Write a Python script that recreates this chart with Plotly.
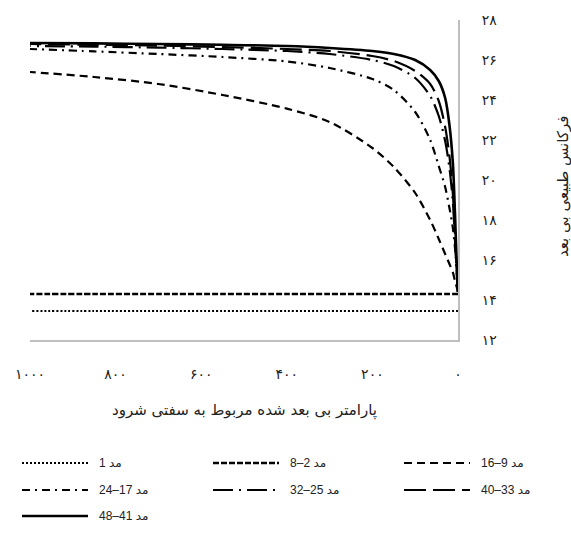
import plotly.graph_objects as go

# ---------------- data ----------------
x_vals = [0, 3, 7, 12, 20, 30, 45, 65, 100, 150, 200, 300, 400, 550, 700, 850, 1000]

mode_1     = [13.45] * 17
mode_2_8   = [14.3] * 17
mode_9_16  = [14.4, 14.65, 14.95, 15.38, 15.8, 16.3, 17.05, 18.0, 19.35, 20.65, 21.6, 22.9, 23.57, 24.25, 24.8, 25.15, 25.4]
mode_17_24 = [14.4, 15.6, 16.6, 17.6, 18.6, 19.65, 20.7, 22.0, 23.4, 24.5, 25.05, 25.6, 25.93, 26.15, 26.3, 26.43, 26.55]
mode_25_32 = [14.4, 15.3, 17.0, 18.9, 20.6, 21.95, 23.2, 24.2, 25.1, 25.7, 26.0, 26.3, 26.45, 26.55, 26.62, 26.67, 26.7]
mode_33_40 = [14.4, 15.5, 17.3, 19.3, 21.2, 22.65, 23.95, 24.8, 25.45, 25.95, 26.2, 26.45, 26.55, 26.65, 26.72, 26.76, 26.8]
mode_41_48 = [14.4, 15.8, 18.3, 20.85, 22.75, 24.1, 24.95, 25.5, 26.0, 26.3, 26.45, 26.6, 26.7, 26.76, 26.8, 26.83, 26.85]

series_names = ["مد 1", "مد 2–8", "مد 9–16", "مد 17–24", "مد 25–32", "مد 33–40", "مد 41–48"]
series_values = [mode_1, mode_2_8, mode_9_16, mode_17_24, mode_25_32, mode_33_40, mode_41_48]

x_tick_vals = [1000, 800, 600, 400, 200, 0]
x_tick_text = ["۱۰۰۰", "۸۰۰", "۶۰۰", "۴۰۰", "۲۰۰", "۰"]
y_tick_vals = [12, 14, 16, 18, 20, 22, 24, 26, 28]
y_tick_text = ["۱۲", "۱۴", "۱۶", "۱۸", "۲۰", "۲۲", "۲۴", "۲۶", "۲۸"]

x_title = "پارامتر بی بعد شده مربوط به سفتی شرود"
y_title = "فرکانس طبیعی بی بعد"

# ---------------- styles ----------------
styles = [
    dict(dash="2px,2px", width=2),
    dict(dash="6px,2px", width=2.5),
    dict(dash="8px,5px", width=2.2),
    dict(dash="8px,5px,2px,5px", width=2.2),
    dict(dash="20px,6px,2px,6px", width=2.2),
    dict(dash="22px,7px", width=2.2),
    dict(dash="solid", width=2.6),
]

W, H = 571, 535
PL, PR, PT, PB = 30, 458, 20, 340  # plot box in pixels

fig = go.Figure()

for name, vals, st in zip(series_names, series_values, styles):
    fig.add_trace(go.Scatter(
        x=x_vals, y=vals, mode="lines", name=name,
        line=dict(color="black", width=st["width"], dash=st["dash"], shape="spline", smoothing=0.8),
        xaxis="x", yaxis="y", showlegend=False, hoverinfo="skip",
    ))

# ---------------- custom legend (pixel-based hidden axes) ----------------
col_x = [22, 213, 404]
row_y = [463, 490, 516]
sample_len = 66
for i, (name, st) in enumerate(zip(series_names, styles)):
    r, c = divmod(i, 3)
    x0 = col_x[c]
    yy = row_y[r]
    fig.add_trace(go.Scatter(
        x=[x0, x0 + sample_len], y=[yy, yy], mode="lines",
        line=dict(color="black", width=st["width"], dash=st["dash"]),
        xaxis="x2", yaxis="y2", showlegend=False, hoverinfo="skip",
    ))
    fig.add_annotation(
        x=x0 + sample_len + 9, y=yy, xref="x2", yref="y2",
        text=name, showarrow=False, xanchor="left", yanchor="middle",
        font=dict(family="Liberation Sans, DejaVu Sans", size=12, color="#222"),
    )

# ---------------- titles ----------------
fig.add_annotation(
    x=(PL + PR) / 2 / W, y=1 - 410 / H, xref="paper", yref="paper",
    text=x_title, showarrow=False, xanchor="center", yanchor="middle",
    font=dict(family="DejaVu Sans", size=15, color="#222"),
)
fig.add_annotation(
    x=563 / W, y=1 - 187 / H, xref="paper", yref="paper",
    text=y_title, showarrow=False, xanchor="center", yanchor="middle",
    textangle=-90,
    font=dict(family="DejaVu Sans", size=15, color="#222"),
)

fig.update_layout(
    template="none",
    width=W, height=H,
    margin=dict(l=0, r=0, t=0, b=0),
    paper_bgcolor="white",
    plot_bgcolor="rgba(0,0,0,0)",
    showlegend=False,
    xaxis=dict(
        domain=[PL / W, PR / W], range=[1000, 0], anchor="y",
        tickmode="array", tickvals=x_tick_vals, ticktext=x_tick_text,
        showgrid=False, zeroline=False, automargin=False,
        showline=True, linecolor="#BFBFBF", linewidth=2, side="bottom",
        ticks="outside", ticklen=20, tickcolor="rgba(0,0,0,0)",
        tickfont=dict(family="DejaVu Sans", size=14, color="#222"),
    ),
    yaxis=dict(
        domain=[1 - PB / H, 1 - PT / H], range=[12, 28], anchor="x",
        tickmode="array", tickvals=y_tick_vals, ticktext=y_tick_text,
        showgrid=False, zeroline=False, automargin=False,
        showline=True, linecolor="#BFBFBF", linewidth=2, side="right",
        ticks="outside", ticklen=19, tickcolor="rgba(0,0,0,0)",
        tickfont=dict(family="DejaVu Sans", size=14, color="#222"),
    ),
    xaxis2=dict(domain=[0, 1], range=[0, W], anchor="y2", visible=False, fixedrange=True),
    yaxis2=dict(domain=[0, 1], range=[H, 0], anchor="x2", visible=False, fixedrange=True),
)

fig.write_html("out.html")
